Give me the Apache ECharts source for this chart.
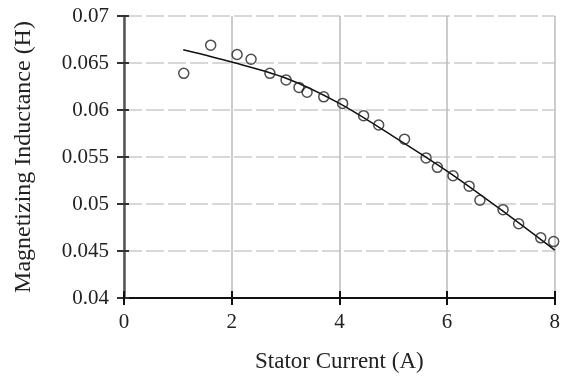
<!DOCTYPE html>
<html>
<head>
<meta charset="utf-8">
<script src="https://cdn.jsdelivr.net/npm/echarts@6/dist/echarts.min.js"></script>
<style>
  html, body { margin: 0; padding: 0; background: #fff; }
  #chart { width: 563px; height: 380px; }
</style>
</head>
<body>
<div id="chart"></div>
<script>
// measured points
var currentA = [1.11, 1.61, 2.1, 2.36, 2.71, 3.01, 3.25, 3.40, 3.71, 4.06, 4.45, 4.73, 5.21, 5.61, 5.82, 6.11, 6.41, 6.61, 7.04, 7.33, 7.74, 7.98];
var inductanceH = [0.0639, 0.0669, 0.0659, 0.0654, 0.0639, 0.0632, 0.0624, 0.0619, 0.0614, 0.0607, 0.0594, 0.0584, 0.0569, 0.0549, 0.0539, 0.0530, 0.0519, 0.0504, 0.0494, 0.0479, 0.0464, 0.0460];
// fitted curve
var fitX = [1.1, 2, 3, 4, 5, 6, 7, 8];
var fitY = [0.0664, 0.0651, 0.0634, 0.0607, 0.0572, 0.0535, 0.0494, 0.0451];

var font = 'Liberation Serif';
var txt = '#222';

var pairs = function (xs, ys) {
    var res = [];
    for (var i = 0; i < xs.length; i++) res.push([xs[i], ys[i]]);
    return res;
};

var chart = echarts.init(document.getElementById('chart'));
var option = {
    backgroundColor: '#fff',
    animation: false,
    grid: { left: 124, right: 6, top: 16, bottom: 82 },
    xAxis: [{
        type: 'value', min: 0, max: 8, interval: 2,
        name: 'Stator Current (A)', nameLocation: 'middle', nameGap: 52,
        nameTextStyle: { fontFamily: font, fontSize: 23, color: txt },
        axisLine: { lineStyle: { color: '#111', width: 2 } },
        axisTick: { length: 7, lineStyle: { color: '#111', width: 2 } },
        axisLabel: { margin: 14, fontFamily: font, fontSize: 21, color: txt },
        splitLine: { show: true, lineStyle: { color: '#bbb', width: 1.5 } }
    }, {
        type: 'value', min: 0, max: 8, interval: 2, position: 'bottom',
        axisLine: { show: false },
        axisTick: { inside: true, length: 7, lineStyle: { color: '#111', width: 2 } },
        axisLabel: { show: false },
        splitLine: { show: false }
    }],
    yAxis: [{
        type: 'value', min: 0.04, max: 0.07, interval: 0.005,
        name: 'Magnetizing Inductance (H)', nameLocation: 'middle', nameGap: 88,
        nameTextStyle: { fontFamily: font, fontSize: 24, color: txt },
        axisLine: { show: true, lineStyle: { color: '#555', width: 2.5 } },
        axisTick: { show: true, length: 7, lineStyle: { color: '#333', width: 2 } },
        axisLabel: { margin: 15, fontFamily: font, fontSize: 21, color: txt },
        splitLine: { show: true, lineStyle: { color: '#ccc', width: 1.5, type: [18, 4] } }
    }, {
        type: 'value', min: 0.04, max: 0.07, interval: 0.005, position: 'left',
        axisLine: { show: false },
        axisTick: { show: true, inside: true, length: 5, lineStyle: { color: '#333', width: 2 } },
        axisLabel: { show: false },
        splitLine: { show: false }
    }],
    series: [
        {
            type: 'line',
            data: pairs(fitX, fitY),
            smooth: 0.3,
            showSymbol: false,
            lineStyle: { color: '#111', width: 1.5 },
            z: 3
        },
        {
            type: 'scatter',
            data: pairs(currentA, inductanceH),
            symbol: 'circle',
            symbolSize: 10,
            itemStyle: { color: 'rgba(255,255,255,0)', borderColor: '#222', borderWidth: 1.5 },
            z: 4
        }
    ]
};
chart.setOption(option);
</script>
</body>
</html>
